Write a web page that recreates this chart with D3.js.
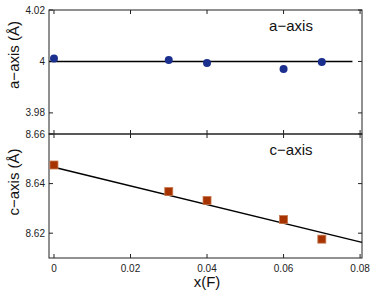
<!DOCTYPE html>
<html>
<head>
<meta charset="utf-8">
<script src="https://cdn.jsdelivr.net/npm/d3@7"></script>
<style>
  body { margin: 0; background: #fff; }
  svg { font-family: "Liberation Sans", Arial, sans-serif; }
  .frame { fill: none; stroke: #222; stroke-width: 1; }
  .tick { stroke: #222; stroke-width: 1; }
  .tlabel { font-size: 10px; fill: #222; }
</style>
</head>
<body>
<svg id="chart" width="374" height="292"></svg>
<script>
// data
const xF = [0, 0.03, 0.04, 0.06, 0.07];
const aAxis = [4.0011, 4.0006, 3.9994, 3.9971, 3.9998];
const cAxis = [8.6475, 8.6368, 8.6332, 8.6255, 8.6176];
const aFitX = [-0.0012, 0.078];
const aFitY = [4.0, 4.0];
const cFitX = [0, 0.0805];
const cFitY = [8.6466, 8.6163];
const xTicks = [0, 0.02, 0.04, 0.06, 0.08];
const xTickLabels = ['0', '0.02', '0.04', '0.06', '0.08'];
const aTicks = [3.98, 4.0, 4.02];
const aTickLabels = ['3.98', '4', '4.02'];
const cTicks = [8.62, 8.64, 8.66];
const cTickLabels = ['8.62', '8.64', '8.66'];

const left = 49, right = 362;
const topA = 10, midY = 134, botC = 258;
const tickLen = 4;

const svg = d3.select('#chart');

const x = d3.scaleLinear().domain([-0.0013, 0.0805]).range([left, right]);
const yA = d3.scaleLinear().domain([3.9718, 4.02]).range([midY, topA]);
const yC = d3.scaleLinear().domain([8.61, 8.66]).range([botC, midY]);

function panel(y, yTicks, yLabels, top, bottom, title, ylab, ylabY) {
  const g = svg.append('g');
  g.append('rect').attr('class', 'frame')
    .attr('x', left).attr('y', top)
    .attr('width', right - left).attr('height', bottom - top);

  // x ticks top and bottom, pointing inward
  xTicks.forEach(t => {
    g.append('line').attr('class', 'tick')
      .attr('x1', x(t)).attr('x2', x(t))
      .attr('y1', top).attr('y2', top + tickLen);
    g.append('line').attr('class', 'tick')
      .attr('x1', x(t)).attr('x2', x(t))
      .attr('y1', bottom).attr('y2', bottom - tickLen);
  });

  yTicks.forEach((t, i) => {
    g.append('line').attr('class', 'tick')
      .attr('x1', left).attr('x2', left + tickLen)
      .attr('y1', y(t)).attr('y2', y(t));
    g.append('line').attr('class', 'tick')
      .attr('x1', right).attr('x2', right - tickLen)
      .attr('y1', y(t)).attr('y2', y(t));
    g.append('text').attr('class', 'tlabel')
      .attr('x', left - 4).attr('y', y(t) + 3.5)
      .attr('text-anchor', 'end')
      .text(yLabels[i]);
  });

  g.append('text')
    .attr('x', 291).attr('y', top + 21)
    .attr('text-anchor', 'middle')
    .style('font-size', '15px').style('fill', '#111')
    .text(title);

  g.append('text')
    .attr('transform', 'translate(19,' + ylabY + ') rotate(-90)')
    .attr('text-anchor', 'middle')
    .style('font-size', '15px').style('fill', '#111')
    .text(ylab);
  return g;
}

const gA = panel(yA, aTicks, aTickLabels, topA, midY, 'a\u2212axis', 'a\u2212axis (\u00c5)', 55);
const gC = panel(yC, cTicks, cTickLabels, midY, botC, 'c\u2212axis', 'c\u2212axis (\u00c5)', 182);

const line = d3.line();

gA.append('path')
  .attr('d', line(aFitX.map((d, i) => [x(d), yA(aFitY[i])])))
  .attr('fill', 'none').attr('stroke', '#000').attr('stroke-width', 1.5);

gA.selectAll('circle')
  .data(xF)
  .enter()
  .append('circle')
  .attr('cx', d => x(d))
  .attr('cy', (d, i) => yA(aAxis[i]))
  .attr('r', 4)
  .attr('fill', '#1b2f8e');

gC.append('path')
  .attr('d', line(cFitX.map((d, i) => [x(d), yC(cFitY[i])])))
  .attr('fill', 'none').attr('stroke', '#000').attr('stroke-width', 1.5);

gC.selectAll('rect.pt')
  .data(xF)
  .enter()
  .append('rect')
  .attr('class', 'pt')
  .attr('x', d => x(d) - 4)
  .attr('y', (d, i) => yC(cAxis[i]) - 4)
  .attr('width', 8)
  .attr('height', 8)
  .attr('fill', '#a63300')
  .attr('stroke', '#c87a50')
  .attr('stroke-width', 0.8);

// x tick labels
xTicks.forEach((t, i) => {
  svg.append('text').attr('class', 'tlabel')
    .attr('x', x(t)).attr('y', botC + 14)
    .attr('text-anchor', 'middle')
    .text(xTickLabels[i]);
});

svg.append('text')
  .attr('x', x(0.04)).attr('y', 287)
  .attr('text-anchor', 'middle')
  .style('font-size', '15px').style('fill', '#111')
  .text('x(F)');
</script>
</body>
</html>
